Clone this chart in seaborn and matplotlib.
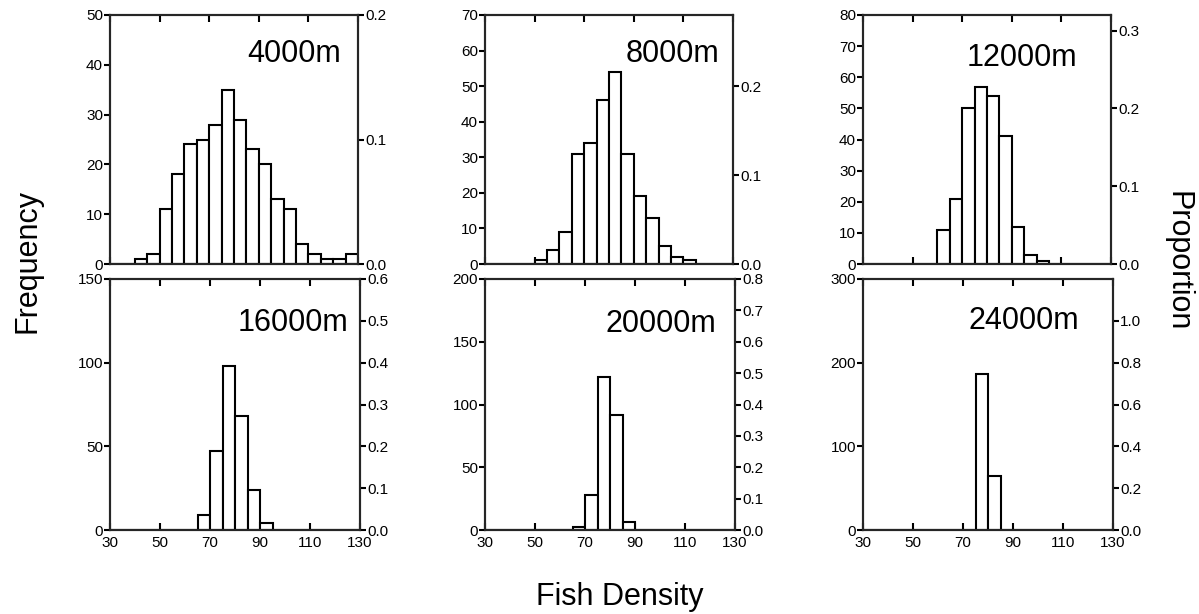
import numpy as np
import matplotlib
matplotlib.use('Agg')
import matplotlib.pyplot as plt
from matplotlib.ticker import FormatStrFormatter
import seaborn as sns

# bin lower edges (width 5) and counts per distance
density_bins = [30, 35, 40, 45, 50, 55, 60, 65, 70, 75, 80, 85, 90, 95, 100, 105, 110, 115, 120, 125]
bin_edges = density_bins + [130]

labels = ['4000m', '8000m', '12000m', '16000m', '20000m', '24000m']
counts_4000 = [0, 0, 1, 2, 11, 18, 24, 25, 28, 35, 29, 23, 20, 13, 11, 4, 2, 1, 1, 2]
counts_8000 = [0, 0, 0, 0, 1, 4, 9, 31, 34, 46, 54, 31, 19, 13, 5, 2, 1, 0, 0, 0]
counts_12000 = [0, 0, 0, 0, 0, 0, 11, 21, 50, 57, 54, 41, 12, 3, 1, 0, 0, 0, 0, 0]
counts_16000 = [0, 0, 0, 0, 0, 0, 0, 9, 47, 98, 68, 24, 4, 0, 0, 0, 0, 0, 0, 0]
counts_20000 = [0, 0, 0, 0, 0, 0, 0, 2, 28, 122, 92, 6, 0, 0, 0, 0, 0, 0, 0, 0]
counts_24000 = [0, 0, 0, 0, 0, 0, 0, 0, 0, 186, 64, 0, 0, 0, 0, 0, 0, 0, 0, 0]
all_counts = [counts_4000, counts_8000, counts_12000, counts_16000, counts_20000, counts_24000]
n_total = 250

freq_max = [50, 70, 80, 150, 200, 300]
freq_ticks = [[0, 10, 20, 30, 40, 50],
              [0, 10, 20, 30, 40, 50, 60, 70],
              [0, 10, 20, 30, 40, 50, 60, 70, 80],
              [0, 50, 100, 150],
              [0, 50, 100, 150, 200],
              [0, 100, 200, 300]]
prop_ticks = [[0.0, 0.1, 0.2],
              [0.0, 0.1, 0.2],
              [0.0, 0.1, 0.2, 0.3],
              [0.0, 0.1, 0.2, 0.3, 0.4, 0.5, 0.6],
              [0.0, 0.1, 0.2, 0.3, 0.4, 0.5, 0.6, 0.7, 0.8],
              [0.0, 0.2, 0.4, 0.6, 0.8, 1.0]]
x_ticks = [30, 50, 70, 90, 110, 130]

sns.set_style('white')
plt.rcParams['font.family'] = ['Liberation Sans', 'DejaVu Sans']
plt.rcParams['axes.linewidth'] = 1.5
plt.rcParams['text.color'] = 'black'
plt.rcParams['xtick.color'] = 'black'
plt.rcParams['ytick.color'] = 'black'

fig = plt.figure(figsize=(11.99, 6.14), dpi=100)
W, H = 1199, 614
lefts = [110, 485, 863]
tops = [15, 279]
size_px = [(248, 249), (250, 251)]

# label placement inside each panel (axes fraction)
lab_x = [0.932, 0.944, 0.863, 0.952, 0.924, 0.863]
lab_y = [0.844, 0.844, 0.828, 0.824, 0.82, 0.832]

for i, counts in enumerate(all_counts):
    row, col = divmod(i, 3)
    w, h = size_px[row]
    ax = fig.add_axes([lefts[col] / W, 1 - (tops[row] + h) / H, w / W, h / H])
    centers = np.array(density_bins) + 2.5
    sns.histplot(x=centers, weights=counts, bins=bin_edges, ax=ax,
                 color='white', edgecolor='black', linewidth=1.5, alpha=1)
    ax.set_xlim(30, 130)
    ax.set_ylim(0, freq_max[i])
    ax.set_xticks(x_ticks)
    ax.set_yticks(freq_ticks[i])
    ax.set_xlabel('')
    ax.set_ylabel('')
    ax.tick_params(axis='x', direction='in', top=True, bottom=True, length=5, width=1.5,
                   labelbottom=(row == 1), labelsize=11, pad=4,
                   colors='black')
    ax.tick_params(axis='y', direction='out', left=True, length=4, width=1.5,
                   labelsize=11, pad=1, colors='black')
    for s in ax.spines.values():
        s.set_color('black')
        s.set_linewidth(1.5)

    ax2 = ax.twinx()
    ax2.set_ylim(0, freq_max[i] / n_total)
    ax2.set_yticks(prop_ticks[i])
    ax2.yaxis.set_major_formatter(FormatStrFormatter('%.1f'))
    ax2.tick_params(axis='y', direction='out', right=True, length=4, width=1.5,
                    labelsize=11, pad=1, colors='black')
    ax2.grid(False)

    ax.text(lab_x[i], lab_y[i], labels[i], transform=ax.transAxes,
            ha='right', va='center', fontsize=22, color='black')

fig.text(0.023, 0.575, 'Frequency', rotation=90, ha='center', va='center',
         fontsize=22, color='black')
fig.text(0.982, 0.575, 'Proportion', rotation=270, ha='center', va='center',
         fontsize=22, color='black')
fig.text(0.517, 0.028, 'Fish Density', ha='center', va='center',
         fontsize=22, color='black')

fig.savefig('out.png', dpi=100)
